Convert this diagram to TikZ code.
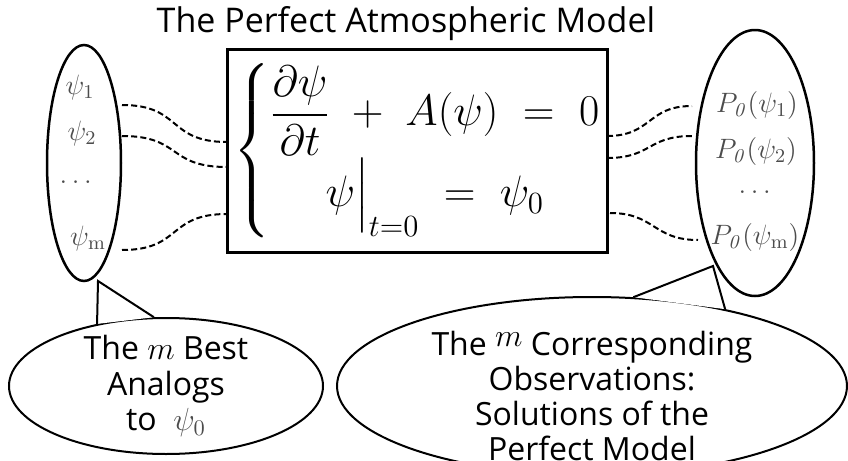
\documentclass[tikz,border=0pt]{standalone}
\usepackage{fix-cm}
\usepackage{amsmath}
\usepackage[no-math]{fontspec}
\setmainfont{Open Sans}
\usepackage{tikz}
\usetikzlibrary{shapes.geometric}

\begin{document}
\begin{tikzpicture}[x=0.5pt, y=-0.5pt,
    lbl/.style={text=black!70, font=\fontsize{14}{16}\selectfont},
    link/.style={line width=1pt, dash pattern=on 3pt off 1.6pt},
    bubble/.style={ellipse, draw, line width=1pt, inner sep=0pt},
    bubtext/.style={align=center, font=\fontsize{16}{17.6}\selectfont}]
    \useasboundingbox (0,0) rectangle (848,461);

    \node[font=\fontsize{17}{20}\selectfont, anchor=base] (title) at (406,32) {The Perfect Atmospheric Model};

    \node[bubble, minimum width=157pt, minimum height=68pt] (bestbub) at (166,386) {};
    \node[bubble, minimum width=255pt, minimum height=89pt] (solbub) at (592,386) {};
    \coordinate (tipL) at (98,281);
    \coordinate (tipR) at (713,266);
    \fill[white] (bestbub.138.5) -- (tipL) -- (bestbub.100.8) -- cycle;
    \draw[line width=1pt] (bestbub.138.5) -- (tipL) -- (bestbub.100.8);
    \fill[white] (solbub.65.8) -- (tipR) -- (solbub.30.7) -- cycle;
    \draw[line width=1pt] (solbub.65.8) -- (tipR) -- (solbub.30.7);
    \node[bubtext] (besttxt) at (bestbub.center) {The $m$ Best\\Analogs\\to\ \ {\color{black!70}$\psi_0$}};
    \node[bubtext] (soltxt) at ([yshift=-5pt]solbub.center)
        {The \raisebox{4.5pt}{$m$} Corresponding\\Observations:\\Solutions of the\\Perfect Model};

    \node[ellipse, draw, line width=1.25pt, inner sep=0pt, minimum width=37pt, minimum height=118pt] (analogs) at (84,163) {};
    \node[ellipse, draw, line width=1.25pt, inner sep=0pt, minimum width=59pt, minimum height=133pt] (observ) at (755,163) {};

    \node[lbl] (psi1) at (80,87) {$\psi_1$};
    \node[lbl] (psi2) at (82,133) {$\psi_2$};
    \node[lbl] (psid) at (78,182) {$\dots$};
    \node[lbl] (psim) at (88,238) {$\psi_{\mathrm{m}}$};

    \node[lbl] (obs1) at (757,105) {$P_{\mathit{0}}(\psi_1)$};
    \node[lbl] (obs2) at (756,151) {$P_{\mathit{0}}(\psi_2)$};
    \node[lbl] (obsd) at (757,192) {$\dots$};
    \node[lbl] (obsm) at (755,237) {$P_{\mathit{0}}(\psi_{\mathrm{m}})$};

    \node[draw, line width=1.5pt, minimum width=190pt, minimum height=101.5pt] (eqbox) at (417,150.5) {};
    \node[font=\fontsize{22}{26}\selectfont, inner sep=0pt, anchor=west] (eqn) at (233,151)
        {$\left\{\begin{array}{@{}c@{}}
          \dfrac{\partial\psi}{\partial t} \;+\; A(\psi) \;=\; 0\\
          \psi\Big|_{t=0} \;=\; \psi_0
        \end{array}\right.$};

    \coordinate (la1) at (122,105);
    \coordinate (la2) at (122,136);
    \coordinate (lam) at (122,250);
    \coordinate (lb1) at (227,142);
    \coordinate (lb2) at (227,167);
    \coordinate (lbm) at (227,214);
    \coordinate (rb1) at (607,136);
    \coordinate (rb2) at (607,158);
    \coordinate (rbm) at (610,213);
    \coordinate (ra1) at (692,106);
    \coordinate (ra2) at (692,136);
    \coordinate (ram) at (698,240);

    \draw[link] (la1) .. controls +(60,0) and +(-60,0) .. (lb1);
    \draw[link] (la2) .. controls +(60,0) and +(-60,0) .. (lb2);
    \draw[link] (lam) .. controls +(60,0) and +(-60,0) .. (lbm);
    \draw[link] (rb1) .. controls +(45,0) and +(-45,0) .. (ra1);
    \draw[link] (rb2) .. controls +(45,0) and +(-45,0) .. (ra2);
    \draw[link] (rbm) .. controls +(45,0) and +(-45,0) .. (ram);
\end{tikzpicture}
\end{document}
